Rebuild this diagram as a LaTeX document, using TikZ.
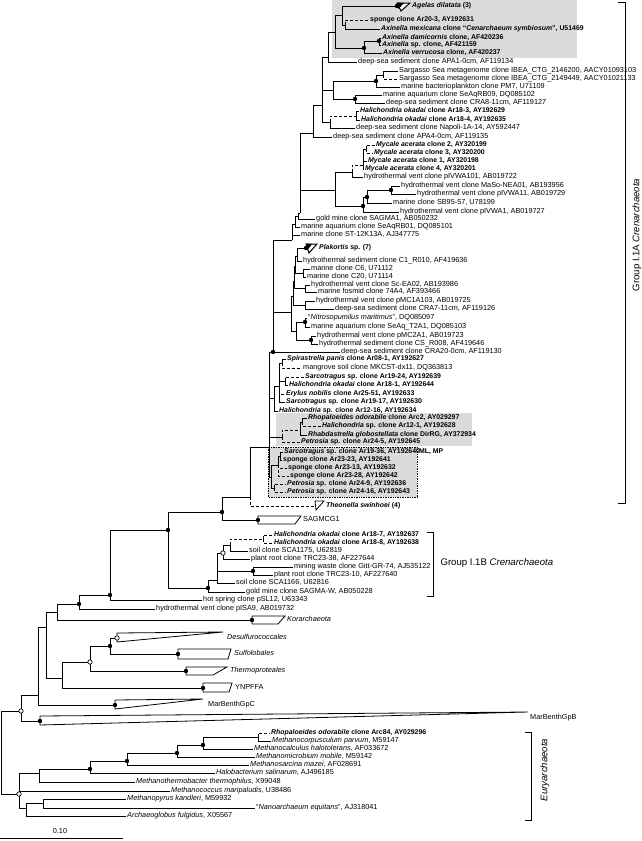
\documentclass[tikz,border=0pt]{standalone}
\usepackage{fontspec}
\setmainfont{Liberation Sans}

\tikzset{
  br/.style={line width=0.9pt},
  dbr/.style={line width=0.9pt, dash pattern=on 3pt off 2pt},
  lab/.style={anchor=west, inner sep=1pt, text height=5.3pt, text depth=1.5pt, font=\fontsize{7.3}{8}\selectfont},
  bl/.style={lab, font=\fontsize{6.9}{8}\selectfont\bfseries},
  grp/.style={font=\fontsize{9.6}{11}\selectfont},
  bdot/.style={circle, fill=black, inner sep=0pt, minimum size=4.4pt},
  odot/.style={circle, draw=black, fill=white, inner sep=0pt, minimum size=4.4pt, line width=0.7pt},
  clade/.style={draw=black, fill=white, line width=0.8pt},
}

\begin{document}
\begin{tikzpicture}[x=1pt, y=-1pt]
\useasboundingbox (0,0) rectangle (642,841);

% Shaded sponge clusters
\fill[black!14] (332,0) rectangle (577,58);
\fill[black!14] (276,413) rectangle (472,446);
\fill[black!14] (268,447) rectangle (417,497);
\draw[line width=0.7pt, densely dotted] (268,447) rectangle (417,497);

% Labels, group I.1A
\node[bl] (agel) at (411,6) {\textit{Agelas dilatata} (3)};
\node[bl] (ar203) at (369,20) {sponge clone Ar20-3, AY192631};
\node[bl] (axmex) at (380,29) {\textit{Axinella mexicana} clone “\textit{Cenarchaeum symbiosum}”, U51469};
\node[bl] (axdam) at (381,38) {\textit{Axinella damicornis} clone, AF420236};
\node[bl] (axsp) at (381,45) {\textit{Axinella} sp. clone, AF421159};
\node[bl] (axver) at (382,53) {\textit{Axinella verrucosa} clone, AF420237};
\node[lab] (apa1) at (357,62) {deep-sea sediment clone APA1-0cm, AF119134};
\node[lab] (sar1) at (398,71) {Sargasso Sea metagenome clone IBEA\_CTG\_2146200, AACY01093103};
\node[lab] (sar2) at (398,79) {Sargasso Sea metagenome clone IBEA\_CTG\_2149449, AACY01021133};
\node[lab] (pm7) at (400,87) {marine bacterioplankton clone PM7, U71109};
\node[lab] (seaq09) at (382,95) {marine aquarium clone SeAqRB09, DQ085102};
\node[lab] (cra8) at (385,103) {deep-sea sediment clone CRA8-11cm, AF119127};
\node[bl] (h183) at (359,111) {\textit{Halichondria okadai} clone Ar18-3, AY192629};
\node[bl] (h184) at (360,120) {\textit{Halichondria okadai} clone Ar18-4, AY192635};
\node[lab] (napoli) at (355,128) {deep-sea sediment clone Napoli-1A-14, AY592447};
\node[lab] (apa4) at (332,137) {deep-sea sediment clone APA4-0cm, AF119135};
\node[bl] (my2) at (375,145) {\textit{Mycale acerata} clone 2, AY320199};
\node[bl] (my3) at (373,153) {\textit{Mycale acerata} clone 3, AY320200};
\node[bl] (my1) at (367,161) {\textit{Mycale acerata} clone 1, AY320198};
\node[bl] (my4) at (364,169) {\textit{Mycale acerata} clone 4, AY320201};
\node[lab] (pv101) at (363,177) {hydrothermal vent clone pIVWA101, AB019722};
\node[lab] (maso) at (400,186) {hydrothermal vent clone MaSo-NEA01, AB193956};
\node[lab] (pv11) at (416,194) {hydrothermal vent clone pIVWA11, AB019729};
\node[lab] (sb95) at (392,203) {marine clone SB95-57, U78199};
\node[lab] (pv1) at (399,212) {hydrothermal vent clone pIVWA1, AB019727};
\node[lab] (sagma1) at (315,219) {gold mine clone SAGMA1, AB050232};
\node[lab] (seaq01) at (300,227) {marine aquarium clone SeAqRB01, DQ085101};
\node[lab] (st12) at (300,235) {marine clone ST-12K13A, AJ347775};
\node[bl] (plak) at (318,248) {\textit{Plakortis} sp. (7)};
\node[lab] (c1r) at (302,261) {hydrothermal sediment clone C1\_R010, AF419636};
\node[lab] (c6) at (310,269) {marine clone C6, U71112};
\node[lab] (c20) at (306,277) {marine clone C20, U71114};
\node[lab] (scea) at (310,285) {hydrothermal vent clone Sc-EA02, AB193986};
\node[lab] (fos) at (317,292) {marine fosmid clone 74A4, AF393466};
\node[lab] (pmc1) at (315,301) {hydrothermal vent clone pMC1A103, AB019725};
\node[lab] (cra7) at (334,309) {deep-sea sediment clone CRA7-11cm, AF119126};
\node[lab] (nitro) at (307,318) {“\textit{Nitrosopumilus maritimus}”, DQ085097};
\node[lab] (seaqt2) at (310,327) {marine aquarium clone SeAq\_T2A1, DQ085103};
\node[lab] (pmc2) at (316,336) {hydrothermal vent clone pMC2A1, AB019723};
\node[lab] (csr) at (318,344) {hydrothermal sediment clone CS\_R008, AF419646};
\node[lab] (cra20) at (340,352) {deep-sea sediment clone CRA20-0cm, AF119130};
\node[bl] (spir) at (286,359) {\textit{Spirastrella panis} clone Ar08-1, AY192627};
\node[lab] (mang) at (302,368) {mangrove soil clone MKCST-dx11, DQ363813};
\node[bl] (sar24) at (304,377) {\textit{Sarcotragus} sp. clone Ar19-24, AY192639};
\node[bl] (hal181) at (288,385) {\textit{Halichondria okadai} clone Ar18-1, AY192644};
\node[bl] (eryl) at (285,394) {\textit{Erylus nobilis} clone Ar25-51, AY192633};
\node[bl] (sar17) at (285,402) {\textit{Sarcotragus} sp. clone Ar19-17, AY192630};
\node[bl] (hal1216) at (278,411) {\textit{Halichondria} sp. clone Ar12-16, AY192634};
\node[bl] (arc2) at (307,418) {\textit{Rhopaloeides odorabile} clone Arc2, AY029297};
\node[bl] (hal121) at (321,426) {\textit{Halichondria} sp. clone Ar12-1, AY192628};
\node[bl] (rhab) at (307,435) {\textit{Rhabdastrella globostellata} clone DirRG, AY372934};
\node[bl] (pet245) at (300,442) {\textit{Petrosia} sp. clone Ar24-5, AY192645};
\node[bl] (sar36) at (283,452) {\textit{Sarcotragus} sp. clone Ar19-36, AY192640};
\node[bl] (sp2323) at (282,460) {sponge clone Ar23-23, AY192641};
\node[bl] (sp2313) at (287,468) {sponge clone Ar23-13, AY192632};
\node[bl] (sp2328) at (289,476) {sponge clone Ar23-28, AY192642};
\node[bl] (pet249) at (286,484) {\textit{Petrosia} sp. clone Ar24-9, AY192636};
\node[bl] (pet2416) at (286,492) {\textit{Petrosia} sp. clone Ar24-16, AY192643};
\node[bl] (mlmp) at (418,452) {ML, MP};
\node[bl] (theon) at (325,506) {\textit{Theonella swinhoei} (4)};
\node[lab] (sagmcg) at (302,520) {SAGMCG1};

% Labels, group I.1B and deep lineages
\node[bl] (h187) at (273,535) {\textit{Halichondria okadai} clone Ar18-7, AY192637};
\node[bl] (h188) at (273,543) {\textit{Halichondria okadai} clone Ar18-8, AY192638};
\node[lab] (sca1175) at (248,551) {soil clone SCA1175, U62819};
\node[lab] (trc38) at (250,559) {plant root clone TRC23-38, AF227644};
\node[lab] (mining) at (293,567) {mining waste clone Gitt-GR-74, AJ535122};
\node[lab] (trc10) at (273,575) {plant root clone TRC23-10, AF227640};
\node[lab] (sca1166) at (235,583) {soil clone SCA1166, U62816};
\node[lab] (sagmaw) at (245,592) {gold mine clone SAGMA-W, AB050228};
\node[lab] (psl) at (202,600) {hot spring clone pSL12, U63343};
\node[lab] (pisa) at (155,609) {hydrothermal vent clone pISA9, AB019732};
\node[lab] (kor) at (286,620) {\textit{Korarchaeota}};
\node[lab] (desulf) at (226,638) {\textit{Desulfurococcales}};
\node[lab] (sulfo) at (233,654) {\textit{Sulfolobales}};
\node[lab] (thermo) at (229,671) {\textit{Thermoproteales}};
\node[lab] (ynp) at (234,688) {YNPFFA};
\node[lab] (mbc) at (207,705) {MarBenthGpC};
\node[lab] (mbb) at (529,718) {MarBenthGpB};

% Labels, Euryarchaeota
\node[bl] (arc84) at (270,733) {\textit{Rhopaloeides odorabile} clone Arc84, AY029296};
\node[lab] (mparv) at (271,741) {\textit{Methanocorpusculum parvum}, M59147};
\node[lab] (mcalc) at (253,749) {\textit{Methanocalculus halotolerans}, AF033672};
\node[lab] (mmicro) at (255,757) {\textit{Methanomicrobium mobile}, M59142};
\node[lab] (msarc) at (249,765) {\textit{Methanosarcina mazei}, AF028691};
\node[lab] (halo) at (215,773) {\textit{Halobacterium salinarum}, AJ496185};
\node[lab] (mthermo) at (135,782) {\textit{Methanothermobacter thermophilus}, X99048};
\node[lab] (mcocc) at (170,791) {\textit{Methanococcus maripaludis}, U38486};
\node[lab] (mpyrus) at (126,799) {\textit{Methanopyrus kandleri}, M59932};
\node[lab] (nano) at (255,808) {“\textit{Nanoarchaeum equitans}”, AJ318041};
\node[lab] (archaeo) at (126,816) {\textit{Archaeoglobus fulgidus}, X05567};

% Agelas - Axinella cluster
\coordinate (agelc) at (397,6);
\coordinate (axa) at (335,32);
\coordinate (axb) at (342,15);
\coordinate (axc) at (345,25);
\coordinate (axd) at (364,48);
\coordinate (axe) at (379,41);
\coordinate (ia) at (328,57);
\draw[br] (axb) |- (agelc) (axb) |- (axc) (axc) |- (axmex.west)
  (axe) |- (axdam.west) (axe) |- (axsp.west) (axd) |- (axe) (axd) |- (axver.west)
  (axa) |- (axb) (axa) |- (axd) (ia) |- (axa) (ia) |- (apa1.west);
\draw[dbr] (axc) |- (ar203.west);

% Sargasso cluster
\coordinate (sa) at (333,90);
\coordinate (sb) at (376,81);
\coordinate (sc) at (383,75);
\coordinate (sd) at (355,99);
\draw[br] (sc) |- (sar1.west) (sb) |- (sc) (sb) |- (pm7.west) (sd) |- (seaq09.west)
  (sd) |- (cra8.west) (sa) |- (sb) (sa) |- (sd);
\draw[dbr] (sc) |- (sar2.west);

% Halichondria Ar18-3/4
\coordinate (ha) at (330,122);
\coordinate (hb) at (356,116);
\draw[br] (hb) |- (h183.west) (hb) |- (h184.west) (ha) |- (napoli.west);
\draw[dbr] (ha) |- (hb);
\coordinate (ib) at (322,105);
\coordinate (ta) at (313,133);
\draw[br] (ib) |- (ia) (ib) |- (sa) (ib) |- (ha) (ta) |- (ib) (ta) |- (apa4.west);

% Mycale cluster and vent clones
\coordinate (mya) at (366,149);
\coordinate (myb) at (363,165);
\coordinate (myc) at (352,172);
\draw[dbr] (mya) |- (my2.west) (mya) |- (my3.west) (myb) |- (my1.west) (myc) |- (myb);
\draw[br] (myb) |- (mya) (myb) |- (my4.west) (myc) |- (pv101.west);
\coordinate (hv1) at (363,206);
\coordinate (hv2) at (367,197);
\coordinate (hv3) at (391,190);
\coordinate (mz) at (335,190);
\draw[br] (hv3) |- (maso.west) (hv3) |- (pv11.west) (hv2) |- (hv3) (hv2) |- (sb95.west)
  (hv1) |- (hv2) (hv1) |- (pv1.west) (mz) |- (myc) (mz) |- (hv1);

% ladder to the base of the marine group
\coordinate (pa) at (300,213);
\coordinate (pb) at (298,216);
\coordinate (pc) at (295,224);
\coordinate (pd) at (292,240);
\draw[br] (pa) |- (ta) (pa) |- (mz) (pb) |- (pa) (pb) |- (sagma1.west) (pc) |- (pb)
  (pc) |- (seaq01.west) (pd) |- (pc) (pd) |- (st12.west);

% Plakortis - Nitrosopumilus cluster
\coordinate (plakc) at (306,248);
\coordinate (ka) at (297,256);
\coordinate (kb) at (295,266);
\coordinate (kc) at (294,281);
\coordinate (kd) at (293,296);
\coordinate (ke) at (291,312);
\coordinate (kf) at (303,273);
\coordinate (kg) at (305,288);
\coordinate (kh) at (305,305);
\coordinate (ki) at (305,322);
\coordinate (kj) at (311,340);
\coordinate (kk) at (296,331);
\draw[br] (ka) |- (plakc) (ka) |- (c1r.west) (kf) |- (c6.west) (kf) |- (c20.west)
  (kg) |- (scea.west) (kg) |- (fos.west) (kh) |- (pmc1.west) (kh) |- (cra7.west)
  (ki) |- (nitro.west) (ki) |- (seaqt2.west) (kj) |- (pmc2.west) (kj) |- (csr.west)
  (kk) |- (ki) (kk) |- (kj) (kb) |- (ka) (kb) |- (kf) (kc) |- (kb) (kc) |- (kg)
  (kd) |- (kc) (kd) |- (kh) (ke) |- (kd) (ke) |- (kk);
\coordinate (qa) at (273,352);
\draw[br] (qa) |- (pd) (qa) |- (ke) (qa) |- (cra20.west);

% sponge clusters
\coordinate (ua) at (282,363);
\coordinate (ub) at (285,381);
\coordinate (uc) at (279,386);
\coordinate (ud) at (274,398);
\draw[br] (ua) |- (spir.west) (ub) |- (hal181.west) (uc) |- (ua) (uc) |- (ub)
  (uc) |- (sar17.west) (ud) |- (uc) (ud) |- (hal1216.west);
\draw[dbr] (ua) |- (mang.west) (ub) |- (sar24.west) (uc) |- (eryl.west);
\coordinate (ga) at (302,422);
\coordinate (gb) at (300,430);
\coordinate (gc) at (282,437);
\draw[br] (ga) |- (arc2.west) (gb) |- (ga) (gb) |- (rhab.west);
\draw[dbr] (ga) |- (hal121.west) (gc) |- (gb) (gc) |- (pet245.west);
\coordinate (va) at (280,456);
\coordinate (vb) at (278,465);
\coordinate (vc) at (274,488);
\coordinate (vd) at (271,477);
\draw[br] (va) |- (sar36.west) (va) |- (sp2323.west) (vb) |- (va) (vd) |- (vb) (vd) |- (vc);
\draw[dbr] (vb) |- (sp2313.west) (vb) |- (sp2328.west) (vc) |- (pet249.west) (vc) |- (pet2416.west);
\coordinate (bg) at (269,447);
\coordinate (wa) at (250,497);
\coordinate (theonc) at (315,506);
\draw[br] (bg) |- (qa) (bg) |- (ud) (bg) |- (gc) (bg) |- (vd) (wa) |- (bg);
\draw[dbr] (wa) |- (theonc);

% SAGMCG1 and group I.1B
\coordinate (xa) at (222,512);
\coordinate (sagc) at (258,520);
\draw[br] (xa) |- (wa) (xa) |- (sagc);
\coordinate (za) at (263,539);
\coordinate (zb) at (230,545);
\coordinate (zc) at (223,553);
\coordinate (zd) at (253,571);
\coordinate (ze) at (217,580);
\coordinate (zf) at (208,588);
\draw[dbr] (za) |- (h187.west) (za) |- (h188.west) (zb) |- (za);
\draw[br] (zb) |- (sca1175.west) (zc) |- (zb) (zc) |- (trc38.west) (zd) |- (mining.west)
  (zd) |- (trc10.west) (ze) |- (zc) (ze) |- (zd) (ze) |- (sca1166.west) (zf) |- (ze)
  (zf) |- (sagmaw.west);
\coordinate (ya) at (168,530);
\coordinate (yb) at (110,595);
\coordinate (yc) at (79,604);
\coordinate (yd) at (57,612);
\coordinate (korc) at (252,620);
\draw[br] (ya) |- (xa) (ya) |- (zf) (yb) |- (ya) (yb) |- (psl.west) (yc) |- (yb)
  (yc) |- (pisa.west) (yd) |- (yc) (yd) |- (korc);

% Crenarchaeal orders and marine benthic groups
\coordinate (desc) at (117,638);
\coordinate (sulc) at (178,654);
\coordinate (thec) at (186,671);
\coordinate (ynpc) at (203,688);
\coordinate (ca) at (110,646);
\coordinate (cb) at (90,662);
\coordinate (cc) at (62,678);
\coordinate (ye) at (46,627);
\coordinate (mbcc) at (115,705);
\coordinate (yf) at (38,695);
\coordinate (mbbc) at (40,721);
\coordinate (yg) at (21,711);
\draw[br] (ca) |- (desc) (ca) |- (sulc) (cb) |- (ca) (cb) |- (thec) (cc) |- (cb) (cc) |- (ynpc)
  (ye) |- (yd) (ye) |- (cc) (yf) |- (ye) (yf) |- (mbcc) (yg) |- (yf) (yg) |- (mbbc);

% Euryarchaeota
\coordinate (ea) at (258,737);
\coordinate (eb) at (203,745);
\coordinate (ec) at (177,753);
\coordinate (ed) at (127,761);
\coordinate (ee) at (90,769);
\coordinate (ef) at (39,773);
\coordinate (eg) at (19,794);
\coordinate (eh) at (26,808);
\coordinate (ei) at (43,803);
\coordinate (root) at (1,750);
\draw[dbr] (ea) |- (arc84.west);
\draw[br] (ea) |- (mparv.west) (eb) |- (ea) (eb) |- (mcalc.west) (ec) |- (eb) (ec) |- (mmicro.west)
  (ed) |- (ec) (ed) |- (msarc.west) (ee) |- (ed) (ee) |- (halo.west) (ef) |- (ee)
  (ef) |- (mthermo.west) (eg) |- (ef) (eg) |- (mcocc.west) (eg) |- (eh) (ei) |- (mpyrus.west)
  (ei) |- (nano.west) (eh) |- (ei) (eh) |- (archaeo.west) (root) |- (yg) (root) |- (eg);

% Collapsed clades
\draw[line width=1pt, fill=white] (397,3) -- (410,3) -- (401,11) -- cycle;
\fill (397,2.5) -- (404,3) -- (398.5,9) -- cycle;
\draw[line width=1pt, fill=white] (306,244) -- (317,244) -- (309,253) -- cycle;
\fill (306,243.5) -- (312,244) -- (307.5,250) -- cycle;
\draw[clade] (315,501) -- (324,501) -- (316,510) -- cycle;
\draw[clade] (258,516) -- (301,516) -- (295,524) -- (258,524) -- cycle;
\draw[clade] (252,616) -- (285,616) -- (278,624) -- (252,624) -- cycle;
\draw[clade] (117,633) -- (223,632) -- (117,642) -- cycle;
\draw[clade] (178,649) -- (231,649) -- (228,659) -- (178,659) -- cycle;
\draw[clade] (186,667) -- (227,667) -- (213,675) -- (186,675) -- cycle;
\draw[clade] (203,683) -- (232,683) -- (229,692) -- (203,692) -- cycle;
\draw[clade] (115,700) -- (203,699) -- (115,709) -- cycle;
\draw[clade] (40,716) -- (528,712) -- (40,725) -- cycle;

% Node support
\foreach \n in {agelc,axd,axe,sb,sd,hv1,hv2,hv3,plakc,ki,kj,qa,xa,sagc,ya,zd,zf,yb,yc,korc,
  ca,sulc,thec,ynpc,mbcc,mbbc,eb,ec,ed,ee}
  \node[bdot] (dot-\n) at (\n) {};
\foreach \n in {zc,desc,cb,yg,eg}
  \node[odot] (ring-\n) at (\n) {};

% Group brackets
\draw[line width=1pt] (618,2) -- (625,2) -- (625,503) -- (618,503);
\node[grp, rotate=90] (g1a) at (637,235) {Group I.1A \textit{Crenarchaeota}};
\draw[line width=1pt] (427,532) -- (433,532) -- (433,596) -- (427,596);
\node[grp, anchor=west] (g1b) at (437,563) {Group I.1B \textit{Crenarchaeota}};
\draw[line width=1pt] (525,732) -- (531,732) -- (531,820) -- (525,820);
\node[grp, rotate=90] (eury) at (545,770) {\textit{Euryarchaeota}};

% Scale bar
\draw[line width=0.9pt] (0,838) -- (123,838);
\node[lab, anchor=south] (scale) at (60,836) {0.10};

\end{tikzpicture}
\end{document}
